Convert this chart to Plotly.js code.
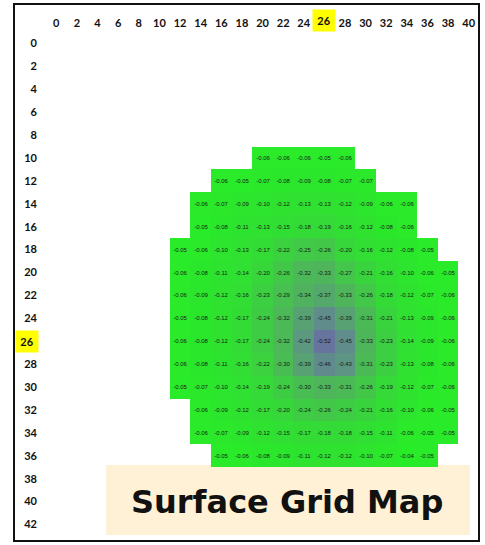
<!DOCTYPE html>
<html>
<head>
<meta charset="utf-8">
<script src="https://cdn.plot.ly/plotly-3.0.1.min.js"></script>
<style>
  html, body { margin: 0; padding: 0; background: #ffffff; }
  #chart { width: 485px; height: 545px; }
</style>
</head>
<body>
<div id="chart"></div>
<script>
// ---- Data ----
const colTicks = [0,2,4,6,8,10,12,14,16,18,20,22,24,26,28,30,32,34,36,38,40];
const rowTicks = [0,2,4,6,8,10,12,14,16,18,20,22,24,26,28,30,32,34,36,38,40,42];

// first column of each data row
const rowIds   = [10,12,14,16,18,20,22,24,26,28,30,32,34,36];
const rowStart = [20,16,14,14,12,12,12,12,12,12,12,14,14,16];

const row10 = [-0.06,-0.06,-0.06,-0.05,-0.06];
const row12 = [-0.06,-0.05,-0.07,-0.08,-0.09,-0.08,-0.07,-0.07];
const row14 = [-0.06,-0.07,-0.09,-0.10,-0.12,-0.13,-0.13,-0.12,-0.09,-0.06,-0.06];
const row16 = [-0.05,-0.08,-0.11,-0.13,-0.15,-0.18,-0.19,-0.16,-0.12,-0.08,-0.06];
const row18 = [-0.05,-0.06,-0.10,-0.13,-0.17,-0.22,-0.25,-0.26,-0.20,-0.16,-0.12,-0.08,-0.05];
const row20 = [-0.06,-0.08,-0.11,-0.14,-0.20,-0.26,-0.32,-0.33,-0.27,-0.21,-0.16,-0.10,-0.06,-0.05];
const row22 = [-0.06,-0.09,-0.12,-0.16,-0.23,-0.29,-0.34,-0.37,-0.33,-0.26,-0.18,-0.12,-0.07,-0.06];
const row24 = [-0.05,-0.08,-0.12,-0.17,-0.24,-0.32,-0.39,-0.45,-0.39,-0.31,-0.21,-0.13,-0.09,-0.06];
const row26 = [-0.06,-0.08,-0.12,-0.17,-0.24,-0.32,-0.42,-0.52,-0.45,-0.33,-0.23,-0.14,-0.09,-0.06];
const row28 = [-0.06,-0.08,-0.11,-0.16,-0.22,-0.30,-0.39,-0.46,-0.43,-0.31,-0.23,-0.13,-0.08,-0.06];
const row30 = [-0.05,-0.07,-0.10,-0.14,-0.19,-0.24,-0.30,-0.33,-0.31,-0.26,-0.19,-0.12,-0.07,-0.06];
const row32 = [-0.06,-0.09,-0.12,-0.17,-0.20,-0.24,-0.26,-0.24,-0.21,-0.16,-0.10,-0.06,-0.05];
const row34 = [-0.06,-0.07,-0.09,-0.12,-0.15,-0.17,-0.18,-0.18,-0.15,-0.11,-0.06,-0.05,-0.05];
const row36 = [-0.05,-0.06,-0.08,-0.09,-0.11,-0.12,-0.12,-0.10,-0.07,-0.04,-0.05];

const rowValues = [row10,row12,row14,row16,row18,row20,row22,row24,row26,row28,row30,row32,row34,row36];

const highlightCol = 26;
const highlightRow = 26;
const titleText = 'Surface Grid Map';

// ---- Build z matrix from the arrays ----
const z = rowTicks.map(() => colTicks.map(() => null));
rowIds.forEach((r, i) => {
  const ri = rowTicks.indexOf(r);
  const ci0 = colTicks.indexOf(rowStart[i]);
  rowValues[i].forEach((v, k) => { z[ri][ci0 + k] = v; });
});

// ---- Layout geometry ----
const W = 485, H = 545;
const M = {l: 46, r: 6, t: 32, b: 9};
const PW = W - M.l - M.r, PH = H - M.t - M.b;
const px2x = p => (p - M.l) / PW;
const px2y = p => (H - M.b - p) / PH;

const trace = {
  type: 'heatmap',
  x: colTicks,
  y: rowTicks,
  z: z,
  zmin: -0.52,
  zmax: -0.04,
  colorscale: [
    [0.00, 'rgb(102,116,158)'],
    [0.15, 'rgb(96,142,138)'],
    [0.40, 'rgb(78,182,90)'],
    [0.70, 'rgb(52,218,54)'],
    [1.00, 'rgb(40,236,40)']
  ],
  showscale: false,
  hoverongaps: false,
  texttemplate: '%{z:.2f}',
  textfont: {family: 'Liberation Sans, Arial, sans-serif', size: 6, color: '#1a1a1a'},
  xgap: 0, ygap: 0
};

const tickFont = {family: 'Lato, "Open Sans", sans-serif', size: 11, color: '#111111', weight: 'bold'};
const hiFont = {family: 'Lato, "Open Sans", sans-serif', size: 11, color: '#111111'};

const layout = {
  width: W, height: H,
  margin: M,
  paper_bgcolor: '#ffffff',
  plot_bgcolor: 'rgba(0,0,0,0)',
  showlegend: false,
  xaxis: {
    side: 'top',
    range: [-1, 41],
    tickmode: 'array',
    tickvals: colTicks,
    ticktext: colTicks.map(v => v === highlightCol ? '' : String(v)),
    tickfont: tickFont,
    ticklabelstandoff: 2,
    showgrid: false, zeroline: false, showline: false, ticks: '',
    fixedrange: true
  },
  yaxis: {
    range: [43, -1],
    tickmode: 'array',
    tickvals: rowTicks,
    ticktext: rowTicks.map(v => v === highlightRow ? '' : String(v)),
    tickfont: tickFont,
    ticklabelstandoff: 8,
    showgrid: false, zeroline: false, showline: false, ticks: '',
    fixedrange: true
  },
  shapes: [
    // title box
    {type: 'rect', xref: 'paper', yref: 'paper', layer: 'below',
     x0: px2x(106), x1: px2x(470), y0: px2y(535), y1: px2y(465),
     fillcolor: '#fff1d6', line: {width: 0}},
    // outer frame
    {type: 'rect', xref: 'paper', yref: 'paper', layer: 'above',
     x0: px2x(14), x1: px2x(479), y0: px2y(541), y1: px2y(4),
     fillcolor: 'rgba(0,0,0,0)', line: {color: '#111111', width: 2}}
  ],
  annotations: [
    // highlighted column label
    {xref: 'x', yref: 'paper', x: highlightCol, y: px2y(20),
     xanchor: 'center', yanchor: 'middle', showarrow: false,
     text: '<b>' + highlightCol + '</b>', font: hiFont,
     bgcolor: '#ffff00', width: 20, height: 19, borderpad: 1},
    // highlighted row label
    {xref: 'paper', yref: 'y', x: px2x(27), y: highlightRow,
     xanchor: 'center', yanchor: 'middle', showarrow: false,
     text: '<b>' + highlightRow + '</b>', font: hiFont,
     bgcolor: '#ffff00', width: 20, height: 19, borderpad: 1},
    // title
    {xref: 'paper', yref: 'paper', x: px2x(287), y: px2y(502),
     xanchor: 'center', yanchor: 'middle', showarrow: false,
     text: '<b>' + titleText + '</b>',
     font: {family: '"DejaVu Sans", "Open Sans", sans-serif', size: 32, color: '#111111'}}
  ]
};

Plotly.newPlot('chart', [trace], layout, {staticPlot: true, displayModeBar: false});
</script>
</body>
</html>
